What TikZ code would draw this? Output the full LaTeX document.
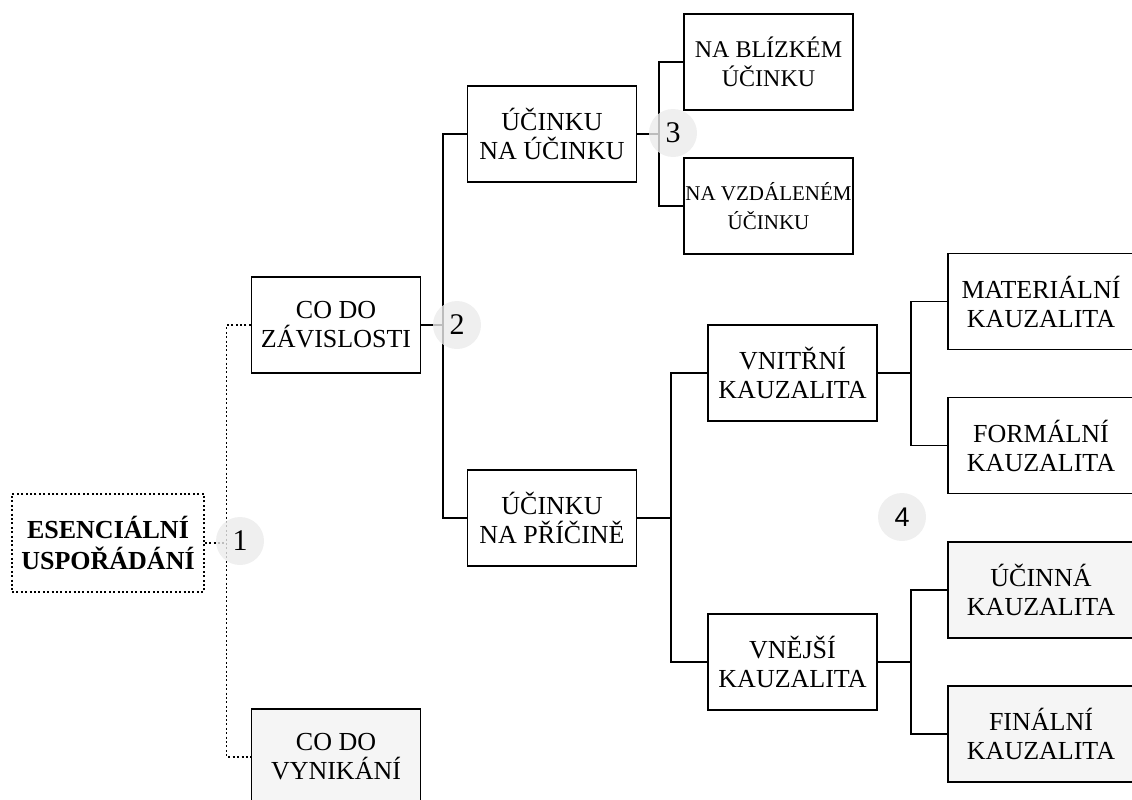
\documentclass[tikz,border=0pt]{standalone}
\usepackage{fontspec}
\setmainfont{Liberation Serif}
\newfontfamily\numfont{Liberation Sans}
\tikzstyle{every node}=[font=\fontsize{26}{29}\selectfont]
\tikzstyle{every path}=[line width=1.6pt,line cap=butt,line join=miter]
\tikzstyle{box}=[draw,line width=1.6pt,align=center,minimum width=169pt,minimum height=96pt,inner sep=0pt]
\tikzstyle{widebox}=[box,minimum width=186pt]
\tikzstyle{shaded}=[fill=gray!8]
\tikzstyle{dotline}=[line width=1.5pt,dash pattern=on 2pt off 2.4pt]
\tikzstyle{badge}=[circle,fill=gray!16,fill opacity=0.8,text opacity=1,minimum size=48pt,inner sep=0pt,font=\fontsize{30}{30}\selectfont]

\begin{document}
\begin{tikzpicture}[x=1pt,y=-1pt]
% Essential order tree
	\newcommand\gapA{24} %gap next to the first junctions
	\newcommand\gapB{36} %gap next to the wide junctions
	\useasboundingbox (0,0) rectangle (1132,800);
	\node[box,dotline,minimum width=192pt,minimum height=98pt,font=\fontsize{26}{31}\selectfont\bfseries] (ess) at (108,543) {ESENCIÁLNÍ\\USPOŘÁDÁNÍ};
	\node[box] (zav) at (336,325) {CO DO\\ZÁVISLOSTI};
	\node[box,shaded] (vyn) at (336,757) {CO DO\\VYNIKÁNÍ};
	\node[box] (ucu) at (552,134) {ÚČINKU\\NA ÚČINKU}; %% ucu is effect on effect
	\node[box] (ucp) at (552,518) {ÚČINKU\\NA PŘÍČINĚ}; %% ucp is effect on cause
	\node[box,font=\fontsize{24}{29}\selectfont] (bli) at (768.5,62) {NA BLÍZKÉM\\ÚČINKU};
	\node[box,font=\fontsize{21}{29}\selectfont] (vzd) at (768.5,206) {NA VZDÁLENÉM\\ÚČINKU};
	\node[box] (vni) at (792.5,373) {VNITŘNÍ\\KAUZALITA};
	\node[box] (vne) at (792.5,662) {VNĚJŠÍ\\KAUZALITA};
	\node[widebox] (mat) at (1041,301.5) {MATERIÁLNÍ\\KAUZALITA};
	\node[widebox] (frm) at (1041,445.5) {FORMÁLNÍ\\KAUZALITA};
	\node[widebox,shaded] (uci) at (1041,590) {ÚČINNÁ\\KAUZALITA};
	\node[widebox,shaded] (fin) at (1041,734) {FINÁLNÍ\\KAUZALITA};
	%% dotted first branching, j1 is the dotted junction
	\draw[dotline] (zav.west) -- ++(-\gapA,0) coordinate (j1) |- (vyn.west);
	\draw[dotline] (ess.east) -- (ess.east -| j1);
	%% solid branchings, j2..j4b are the junctions
	\draw (ucu.west) -- ++(-\gapA,0) coordinate (j2) |- (ucp.west);
	\draw (zav.east) -- (zav.east -| j2);
	\draw (bli.west) -- ++(-\gapA,0) coordinate (j3) |- (vzd.west);
	\draw (ucu.east) -- (ucu.east -| j3);
	\draw (vni.west) -- ++(-\gapB,0) coordinate (j4) |- (vne.west);
	\draw (ucp.east) -- (ucp.east -| j4);
	\draw (mat.west) -- ++(-\gapB,0) coordinate (j4a) |- (frm.west);
	\draw (vni.east) -- (vni.east -| j4a);
	\draw (uci.west) -- ++(-\gapB,0) coordinate (j4b) |- (fin.west);
	\draw (vne.east) -- (vne.east -| j4b);
	%% level badges
	\node[badge] (n1) at (240,541) {1};
	\node[badge] (n2) at (457,325) {2};
	\node[badge] (n3) at (673,133) {3};
	\node[badge,font=\numfont\fontsize{27}{27}\selectfont] (n4) at (902,517) {4};
\end{tikzpicture}
\end{document}
